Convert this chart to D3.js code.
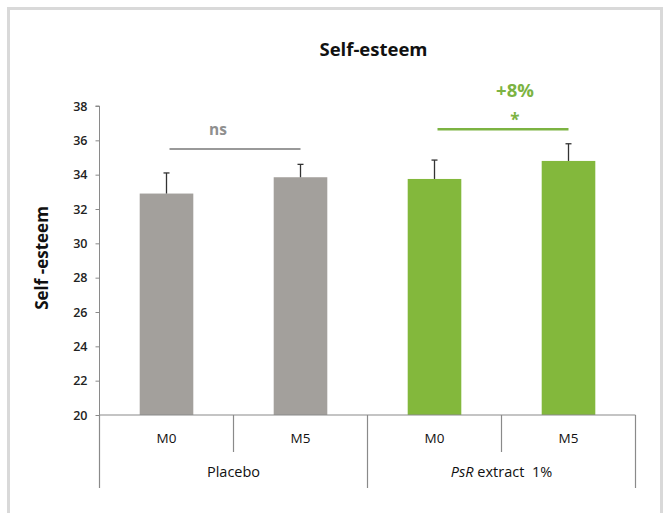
<!DOCTYPE html>
<html>
<head>
<meta charset="utf-8">
<script src="https://cdn.jsdelivr.net/npm/d3@7"></script>
<style>
  html, body { margin: 0; padding: 0; background: #fff; }
  svg { display: block; }
</style>
</head>
<body>
<svg id="chart" width="665" height="513"></svg>
<script>
// Self-esteem scores at month 0 and month 5, for placebo and PsR extract 1%
const timepoints = ["M0", "M5", "M0", "M5"];
const groupNames = ["Placebo", "PsR extract 1%"];
const groupOfBar = [0, 0, 1, 1];
const means = [32.9, 33.85, 33.75, 34.8];
const sdUpper = [1.2, 0.75, 1.1, 1.0];
const yTicks = [20, 22, 24, 26, 28, 30, 32, 34, 36, 38];
// significance brackets: first bar, last bar, level on the y scale, label, extra label
const brackets = [
  { from: 0, to: 1, level: 35.5, label: "ns", extra: null },
  { from: 2, to: 3, level: 36.65, label: "*", extra: "+8%" }
];

const colors = { grey: "#a3a09c", green: "#83b83c", greyText: "#8f8f8f", greenText: "#7cb342" };
const barColor = i => groupOfBar[i] === 0 ? colors.grey : colors.green;
const textColor = i => groupOfBar[i] === 0 ? colors.greyText : colors.greenText;

const svg = d3.select("#chart");
const font = "'Open Sans', sans-serif";

// outer frame
svg.append("rect")
  .attr("x", 8.5).attr("y", 8.5)
  .attr("width", 653).attr("height", 530)
  .attr("fill", "none").attr("stroke", "#d9d9d9").attr("stroke-width", 3);

const x0 = 99.5, x1 = 635.5, yTop = 106, yBot = 415;

const x = d3.scaleBand()
  .domain(d3.range(timepoints.length))
  .range([x0, x1])
  .paddingInner(0.6)
  .paddingOuter(0.3);
const step = x.step();

const y = d3.scaleLinear().domain([20, 38]).range([yBot, yTop]);

// title
svg.append("text")
  .attr("x", 373.5).attr("y", 56)
  .attr("text-anchor", "middle")
  .attr("font-family", font).attr("font-weight", "bold").attr("font-size", 18.5)
  .attr("fill", "#111")
  .text("Self-esteem");

// y axis
const yAxis = d3.axisLeft(y).tickValues(yTicks).tickSize(4).tickPadding(8);
const gy = svg.append("g").attr("transform", `translate(${x0},0)`).call(yAxis);
gy.select(".domain").attr("stroke", "#8a8a8a").attr("d", `M-4,${yTop}H0V${yBot}`);
gy.selectAll(".tick line").attr("stroke", "#8a8a8a");
gy.selectAll(".tick text")
  .attr("font-family", font).attr("font-size", 12.5).attr("font-weight", 600).attr("fill", "#222");

svg.append("text")
  .attr("transform", `translate(48,258) rotate(-90)`)
  .attr("text-anchor", "middle")
  .attr("font-family", font).attr("font-weight", "bold").attr("font-size", 17)
  .attr("fill", "#111")
  .text("Self -esteem");

// bars
svg.append("g").selectAll("rect")
  .data(means)
  .join("rect")
  .attr("x", (d, i) => x(i))
  .attr("width", x.bandwidth())
  .attr("y", d => y(d))
  .attr("height", d => y(20) - y(d))
  .attr("fill", (d, i) => barColor(i));

// upper error bars
const eg = svg.append("g").attr("stroke", "#333").attr("stroke-width", 1.3);
means.forEach((m, i) => {
  const cx = x(i) + x.bandwidth() / 2;
  eg.append("line").attr("x1", cx).attr("x2", cx).attr("y1", y(m)).attr("y2", y(m + sdUpper[i]));
  eg.append("line").attr("x1", cx - 3).attr("x2", cx + 3).attr("y1", y(m + sdUpper[i])).attr("y2", y(m + sdUpper[i]));
});

// x axis drawn as a two-level category table
const ax = svg.append("g").attr("stroke", "#8a8a8a").attr("stroke-width", 1.2);
ax.append("line").attr("x1", x0).attr("x2", x1).attr("y1", yBot).attr("y2", yBot);
d3.range(timepoints.length + 1).forEach(k => {
  const xx = x0 + k * step;
  const outer = k % 2 === 0;
  ax.append("line").attr("x1", xx).attr("x2", xx).attr("y1", yBot).attr("y2", outer ? 488 : 452);
});

svg.append("g").selectAll("text")
  .data(timepoints)
  .join("text")
  .attr("x", (d, i) => x(i) + x.bandwidth() / 2)
  .attr("y", 443)
  .attr("text-anchor", "middle")
  .attr("font-family", font).attr("font-size", 13.5).attr("fill", "#111")
  .text(d => d);

const gl = svg.append("g").attr("font-family", font).attr("font-size", 14.5).attr("fill", "#111");
groupNames.forEach((g, gi) => {
  const cx = x0 + (gi * 2 + 1) * step;
  const t = gl.append("text").attr("x", cx).attr("y", 477).attr("text-anchor", "middle")
    .attr("xml:space", "preserve");
  if (g.startsWith("PsR")) {
    t.append("tspan").attr("font-style", "italic").text("PsR");
    t.append("tspan").text(g.slice(3).replace(" 1%", "  1%"));
  } else {
    t.text(g);
  }
});

// significance brackets
brackets.forEach(b => {
  const xa = x(b.from) + x.bandwidth() / 2 + 3;
  const xb = x(b.to) + x.bandwidth() / 2;
  const yy = y(b.level);
  const col = textColor(b.from);
  svg.append("line").attr("x1", xa).attr("x2", xb).attr("y1", yy).attr("y2", yy)
    .attr("stroke", b.from === 0 ? "#999" : colors.greenText).attr("stroke-width", b.from === 0 ? 2 : 2.5);
  const cx = (xa + xb) / 2;
  if (b.label === "ns") {
    svg.append("text").attr("x", cx - 17).attr("y", yy - 14)
      .attr("text-anchor", "middle").attr("font-family", font)
      .attr("font-weight", "bold").attr("font-size", 15.5).attr("fill", col).text(b.label);
  } else {
    svg.append("text").attr("x", cx + 12).attr("y", yy - 3)
      .attr("text-anchor", "middle").attr("font-family", font)
      .attr("font-weight", "bold").attr("font-size", 17).attr("fill", col).text(b.label);
    svg.append("text").attr("x", cx + 12).attr("y", yy - 32)
      .attr("text-anchor", "middle").attr("font-family", font)
      .attr("font-weight", "bold").attr("font-size", 18.5).attr("fill", col).text(b.extra);
  }
});
</script>
</body>
</html>
